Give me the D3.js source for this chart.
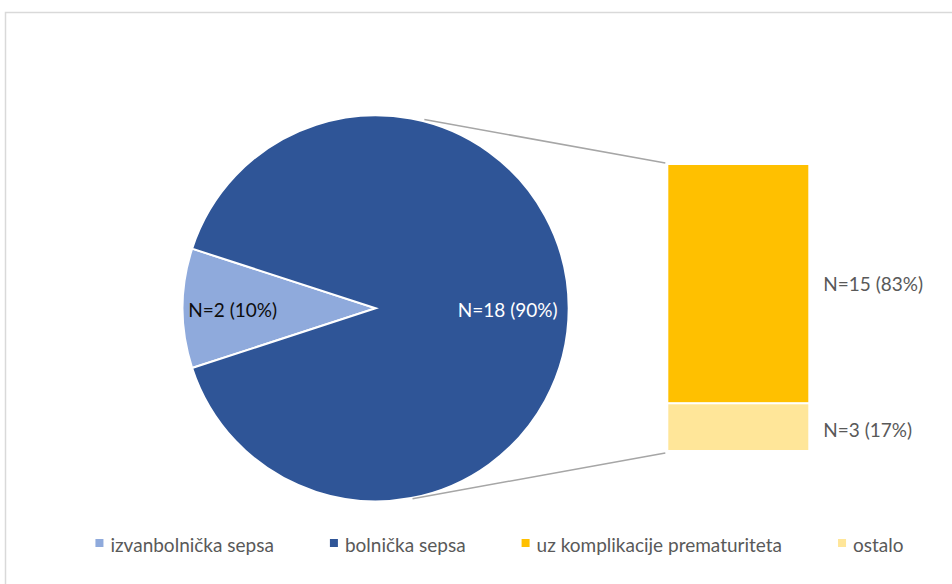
<!DOCTYPE html>
<html lang="en">
<head>
<meta charset="UTF-8">
<title>Pie of bar - sepsa</title>
<style>
  body { margin: 0; background: #fff; overflow: hidden; }
  svg { display: block; }
  text { font-family: Lato, "Liberation Sans", sans-serif; font-size: 19px; }
</style>
</head>
<body>
<div id="chart"></div>
<script src="https://cdnjs.cloudflare.com/ajax/libs/d3/7.8.5/d3.min.js"></script>
<script>
// data
const pieCategories = ["izvanbolnička sepsa", "bolnička sepsa"];
const pieValues = [2, 18];
const pieLabels = ["N=2 (10%)", "N=18 (90%)"];

const barCategories = ["ostalo", "uz komplikacije prematuriteta"];
const barValues = [3, 15];
const barLabels = ["N=3 (17%)", "N=15 (83%)"];

const legendNames = ["izvanbolnička sepsa", "bolnička sepsa", "uz komplikacije prematuriteta", "ostalo"];
const legendColors = ["#8FAADC", "#2F5597", "#FFC000", "#FFE699"];

const pieColors = ["#8FAADC", "#2F5597"];
const barColors = ["#FFE699", "#FFC000"];

const width = 952, height = 584;
const cx = 375.7, cy = 308.3, r = 193;

const svg = d3.select("#chart").append("svg")
    .attr("width", width)
    .attr("height", height);

// chart border
svg.append("rect")
    .attr("x", 5.5).attr("y", 12.5)
    .attr("width", 980).attr("height", 620)
    .attr("fill", "none")
    .attr("stroke", "#D9D9D9")
    .attr("stroke-width", 1.5);

// pie
const total = d3.sum(pieValues);
const half = Math.PI * pieValues[0] / total;
const pie = d3.pie().sort(null)
    .startAngle(-Math.PI / 2 - half)
    .endAngle(-Math.PI / 2 - half + 2 * Math.PI);
const arcs = pie(pieValues);
const arc = d3.arc().innerRadius(0).outerRadius(r);

const g = svg.append("g").attr("transform", `translate(${cx},${cy})`);

// connector lines (drawn first, under pie)
const barX = 667.3, barW = 142;
const y = d3.scaleLinear().domain([0, d3.sum(barValues)]).range([451, 164]);

const topAng = 14.6 * Math.PI / 180, botAng = 169 * Math.PI / 180;
svg.append("line")
    .attr("x1", cx + r * Math.sin(topAng)).attr("y1", cy - r * Math.cos(topAng) - 2)
    .attr("x2", barX - 2).attr("y2", y(d3.sum(barValues)) - 1)
    .attr("stroke", "#A6A6A6").attr("stroke-width", 1.5);
svg.append("line")
    .attr("x1", cx + r * Math.sin(botAng)).attr("y1", cy - r * Math.cos(botAng) + 1)
    .attr("x2", barX - 2).attr("y2", y(0) + 2)
    .attr("stroke", "#A6A6A6").attr("stroke-width", 1.5);

g.selectAll("path.slice")
    .data(arcs)
    .join("path")
    .attr("class", "slice")
    .attr("d", arc)
    .attr("fill", (d, i) => pieColors[i])
    .attr("stroke", "#fff")
    .attr("stroke-width", 2);

const labelR = [143, 132];
g.selectAll("text.pl")
    .data(arcs)
    .join("text")
    .attr("class", "pl")
    .attr("x", (d, i) => d3.arc().innerRadius(labelR[i]).outerRadius(labelR[i]).centroid(d)[0])
    .attr("y", (d, i) => d3.arc().innerRadius(labelR[i]).outerRadius(labelR[i]).centroid(d)[1] + 1)
    .attr("text-anchor", "middle")
    .attr("dominant-baseline", "central")
    .attr("fill", (d, i) => i === 0 ? "#0D0D0D" : "#FFFFFF")
    .text((d, i) => pieLabels[i]);

// bar (stacked)
const stacked = [];
let acc = 0;
barValues.forEach((v, i) => { stacked.push({ y0: acc, y1: acc + v, i }); acc += v; });

svg.selectAll("rect.seg")
    .data(stacked)
    .join("rect")
    .attr("class", "seg")
    .attr("x", barX)
    .attr("width", barW)
    .attr("y", d => y(d.y1))
    .attr("height", d => y(d.y0) - y(d.y1))
    .attr("fill", d => barColors[d.i])
    .attr("stroke", "#fff")
    .attr("stroke-width", 2);

svg.selectAll("text.bl")
    .data(stacked)
    .join("text")
    .attr("class", "bl")
    .attr("x", barX + barW + 14)
    .attr("y", d => d.i === 0 ? (y(d.y0) + y(d.y1)) / 2 + 2 : (y(d.y0) + y(d.y1)) / 2)
    .attr("dominant-baseline", "central")
    .attr("fill", "#595959")
    .text(d => barLabels[d.i]);

// legend
const legend = svg.append("g");
const items = legend.selectAll("g")
    .data(legendNames)
    .join("g");
items.append("rect")
    .attr("width", 8).attr("height", 8)
    .attr("y", 539)
    .attr("fill", (d, i) => legendColors[i]);
items.append("text")
    .attr("x", 15)
    .attr("y", 544)
    .attr("dominant-baseline", "central")
    .attr("fill", "#595959")
    .text(d => d);

let lx = 0;
const offsets = [];
items.each(function () {
    offsets.push(lx);
    const w = d3.select(this).select("text").node().getComputedTextLength();
    lx += 15 + w + 56;
});
const legendW = lx - 56;
const startX = 499.5 - legendW / 2;
items.attr("transform", (d, i) => `translate(${startX + offsets[i]},0)`);
</script>
</body>
</html>
